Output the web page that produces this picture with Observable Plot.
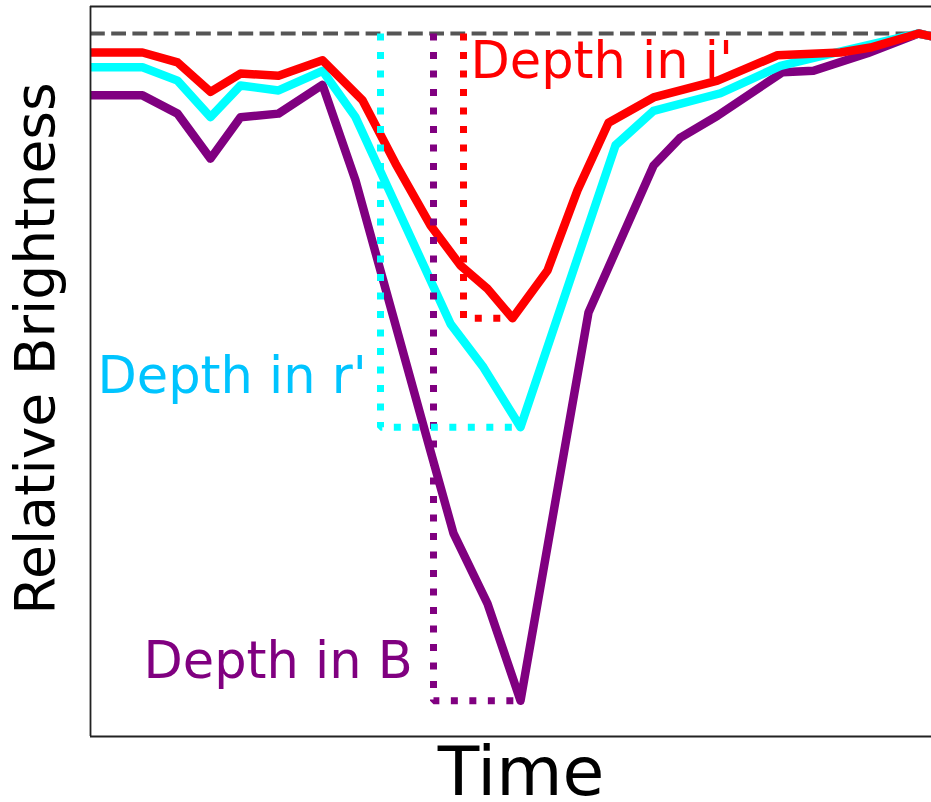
<!DOCTYPE html>
<html><head><meta charset="utf-8">
<script src="https://cdn.jsdelivr.net/npm/d3@7"></script>
<script src="https://cdn.jsdelivr.net/npm/@observablehq/plot@0.6"></script>
<style>body{margin:0;background:#fff;overflow:hidden}#chart svg{display:block}</style>
</head><body><div id="chart"></div>
<script>
// Time (arbitrary units) and relative brightness (1 = out of eclipse)
const redTime = [0, 5.2, 8.7, 12.0, 15.0, 18.8, 23.2, 27.2, 30.5, 34.0, 37.0, 39.7, 42.2, 45.7, 48.7, 51.8, 56.3, 62.7, 68.7, 75.0, 78.0, 82.8, 86.0];
const redBright = [0.973, 0.973, 0.959, 0.917, 0.943, 0.940, 0.962, 0.905, 0.815, 0.727, 0.670, 0.637, 0.595, 0.663, 0.777, 0.873, 0.909, 0.933, 0.969, 0.973, 0.980, 1.0, 0.99];
const cyanTime = [0, 5.2, 8.7, 12.0, 15.0, 18.8, 23.2, 26.5, 36.0, 39.3, 43.0, 52.5, 56.3, 63.0, 69.0, 74.3, 82.8, 86.0];
const cyanBright = [0.952, 0.952, 0.933, 0.881, 0.926, 0.919, 0.947, 0.881, 0.587, 0.525, 0.440, 0.841, 0.890, 0.915, 0.954, 0.972, 1.0, 0.99];
const purpleTime = [0, 5.2, 8.7, 12.0, 15.0, 18.8, 23.2, 26.5, 34.0, 36.3, 39.7, 43.0, 49.8, 56.3, 59.0, 62.7, 69.2, 72.3, 77.7, 82.8, 86.0];
const purpleBright = [0.912, 0.912, 0.886, 0.822, 0.881, 0.886, 0.927, 0.791, 0.406, 0.289, 0.189, 0.051, 0.603, 0.812, 0.852, 0.883, 0.945, 0.947, 0.972, 1.0, 0.99];

const seriesNames = ["B", "r'", "i'"];
const lineColors = ["#800080", "#00ffff", "#ff0000"];
const textColors = ["#800080", "#00c4ff", "#ff0000"];
// depth markers: time of vertical dotted line, time of minimum, minimum brightness
const depthTime = [34.3, 29.0, 37.3];
const minTime = [43.0, 43.0, 42.2];
const minBright = [0.051, 0.440, 0.595];
// annotation labels
const labelText = ["Depth in B", "Depth in r'", "Depth in i'"];
const labelTime = [5.3, 0.7, 38.0];
const labelBright = [0.083, 0.489, 0.936];

const baseline = 1.0;
const xDomain = [0, 84.1];
const yDomain = [0, 1.0384];

const times = [purpleTime, cyanTime, redTime];
const brights = [purpleBright, cyanBright, redBright];
const lineData = seriesNames.flatMap((s, i) => times[i].map((t, j) => ({series: s, t, b: brights[i][j], color: lineColors[i]})));
const depthData = seriesNames.flatMap((s, i) => [
  {series: s, t: depthTime[i], b: baseline, color: lineColors[i]},
  {series: s, t: depthTime[i], b: minBright[i], color: lineColors[i]},
  {series: s, t: minTime[i], b: minBright[i], color: lineColors[i]}
]);
const labels = labelText.map((txt, i) => ({txt, t: labelTime[i], b: labelBright[i], color: textColors[i]}));

const font = "DejaVu Sans";
const chart = Plot.plot({
  width: 931,
  height: 802,
  marginLeft: 90,
  marginRight: 0,
  marginTop: 6,
  marginBottom: 66,
  style: {fontFamily: font, background: "#fff"},
  x: {domain: xDomain, axis: null},
  y: {domain: yDomain, axis: null},
  marks: [
    Plot.ruleY([baseline], {stroke: "#555", strokeWidth: 4, strokeDasharray: "14.8,6.4"}),
    Plot.line(lineData, {x: "t", y: "b", z: "series", stroke: "color", strokeWidth: 8.5, strokeLinejoin: "round", strokeLinecap: "butt", clip: true}),
    Plot.line(depthData, {x: "t", y: "b", z: "series", stroke: "color", strokeWidth: 7, strokeDasharray: "7,11.5", strokeLinecap: "butt", strokeLinejoin: "miter"}),
    Plot.text(labels, {x: "t", y: "b", text: "txt", fill: "color", fontSize: 51, textAnchor: "start", lineAnchor: "bottom", fontFamily: font}),
    Plot.ruleX([0], {stroke: "#222", strokeWidth: 1.8}),
    Plot.ruleY([yDomain[0], yDomain[1]], {stroke: "#222", strokeWidth: 1.8}),
    Plot.text(["Relative Brightness"], {frameAnchor: "left", rotate: -90, dx: -37, dy: -23, fontSize: 55, fill: "#000", textAnchor: "middle", lineAnchor: "bottom", fontFamily: font}),
    Plot.text(["Time"], {frameAnchor: "bottom", dx: 10, dy: 58, fontSize: 68, fill: "#000", textAnchor: "middle", lineAnchor: "bottom", fontFamily: font})
  ]
});
document.getElementById("chart").appendChild(chart);
</script>
</body></html>
